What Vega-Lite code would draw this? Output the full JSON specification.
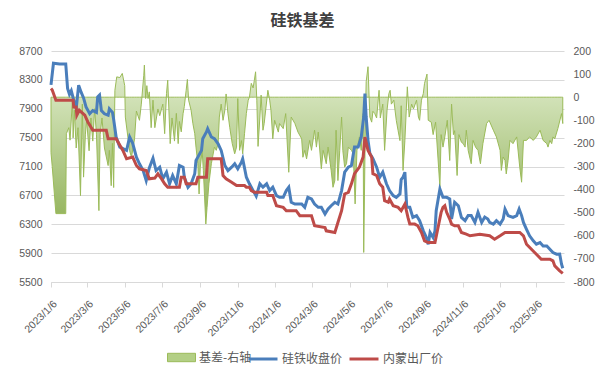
{
 "$schema": "https://vega.github.io/schema/vega-lite/v6.json",
 "width": 513,
 "height": 231,
 "autosize": {"type": "none"},
 "padding": {"left": 51, "top": 51, "right": 42, "bottom": 97},
 "background": "white",
 "config": {"view": {"stroke": null}, "font": "Liberation Sans"},
 "title": {"text": "硅铁基差", "font": "Noto Sans CJK SC", "fontSize": 16, "fontWeight": "bold", "color": "#404040", "anchor": "middle", "offset": 17, "dx": -5},
 "datasets": {
  "basis": [
   {"date":"2023-01-06","value":-240},{"date":"2023-01-08","value":-300},{"date":"2023-01-14","value":-504},{"date":"2023-01-30","value":-504},{"date":"2023-01-31","value":-158},{"date":"2023-02-04","value":-132},{"date":"2023-02-06","value":-186},{"date":"2023-02-10","value":-6},{"date":"2023-02-11","value":-176},{"date":"2023-02-13","value":-56},{"date":"2023-02-16","value":-220},{"date":"2023-02-19","value":-132},{"date":"2023-02-23","value":-426},{"date":"2023-02-26","value":-30},{"date":"2023-02-28","value":-346},{"date":"2023-03-03","value":-160},{"date":"2023-03-05","value":-100},{"date":"2023-03-09","value":-232},{"date":"2023-03-12","value":-90},{"date":"2023-03-15","value":-190},{"date":"2023-03-18","value":-50},{"date":"2023-03-21","value":-160},{"date":"2023-03-25","value":-491},{"date":"2023-03-27","value":-161},{"date":"2023-03-30","value":-90},{"date":"2023-04-03","value":-220},{"date":"2023-04-09","value":-296},{"date":"2023-04-11","value":-230},{"date":"2023-04-14","value":-383},{"date":"2023-04-16","value":-200},{"date":"2023-04-18","value":-391},{"date":"2023-04-20","value":30},{"date":"2023-04-23","value":88},{"date":"2023-04-28","value":85},{"date":"2023-05-02","value":103},{"date":"2023-05-06","value":50},{"date":"2023-05-07","value":-86},{"date":"2023-05-14","value":-232},{"date":"2023-05-17","value":-260},{"date":"2023-05-22","value":-180},{"date":"2023-05-25","value":-60},{"date":"2023-05-30","value":-100},{"date":"2023-06-02","value":-30},{"date":"2023-06-06","value":95},{"date":"2023-06-07","value":139},{"date":"2023-06-09","value":-6},{"date":"2023-06-11","value":50},{"date":"2023-06-13","value":-6},{"date":"2023-06-15","value":23},{"date":"2023-06-18","value":-132},{"date":"2023-06-21","value":-13},{"date":"2023-06-24","value":-132},{"date":"2023-06-29","value":-51},{"date":"2023-07-02","value":-80},{"date":"2023-07-07","value":-30},{"date":"2023-07-10","value":-158},{"date":"2023-07-13","value":16},{"date":"2023-07-15","value":74},{"date":"2023-07-19","value":-201},{"date":"2023-07-22","value":-90},{"date":"2023-07-26","value":-190},{"date":"2023-07-29","value":-70},{"date":"2023-08-01","value":-201},{"date":"2023-08-03","value":-105},{"date":"2023-08-06","value":-150},{"date":"2023-08-09","value":-71},{"date":"2023-08-11","value":-40},{"date":"2023-08-14","value":30},{"date":"2023-08-16","value":77},{"date":"2023-08-18","value":-13},{"date":"2023-08-22","value":-56},{"date":"2023-08-25","value":-115},{"date":"2023-08-28","value":-158},{"date":"2023-08-30","value":-216},{"date":"2023-09-02","value":-288},{"date":"2023-09-04","value":-419},{"date":"2023-09-06","value":-303},{"date":"2023-09-09","value":-230},{"date":"2023-09-11","value":-317},{"date":"2023-09-15","value":-549},{"date":"2023-09-17","value":-477},{"date":"2023-09-20","value":-375},{"date":"2023-09-24","value":-288},{"date":"2023-09-29","value":-216},{"date":"2023-10-02","value":-230},{"date":"2023-10-05","value":-201},{"date":"2023-10-07","value":-86},{"date":"2023-10-10","value":-30},{"date":"2023-10-13","value":-100},{"date":"2023-10-16","value":-56},{"date":"2023-10-18","value":14},{"date":"2023-10-21","value":-71},{"date":"2023-10-24","value":-132},{"date":"2023-10-28","value":-201},{"date":"2023-11-01","value":-245},{"date":"2023-11-04","value":-216},{"date":"2023-11-06","value":-6},{"date":"2023-11-09","value":-230},{"date":"2023-11-12","value":-188},{"date":"2023-11-14","value":-245},{"date":"2023-11-17","value":-158},{"date":"2023-11-20","value":-70},{"date":"2023-11-23","value":-13},{"date":"2023-11-25","value":0},{"date":"2023-11-28","value":60},{"date":"2023-12-01","value":40},{"date":"2023-12-03","value":74},{"date":"2023-12-05","value":110},{"date":"2023-12-07","value":-13},{"date":"2023-12-09","value":-213},{"date":"2023-12-12","value":-86},{"date":"2023-12-14","value":9},{"date":"2023-12-17","value":-143},{"date":"2023-12-19","value":-114},{"date":"2023-12-25","value":30},{"date":"2023-12-28","value":-13},{"date":"2023-12-30","value":-56},{"date":"2024-01-02","value":-180},{"date":"2024-01-05","value":-100},{"date":"2024-01-11","value":-151},{"date":"2024-01-13","value":-114},{"date":"2024-01-19","value":-136},{"date":"2024-01-23","value":-71},{"date":"2024-01-28","value":-325},{"date":"2024-02-01","value":-86},{"date":"2024-02-07","value":-114},{"date":"2024-02-12","value":-151},{"date":"2024-02-18","value":-180},{"date":"2024-02-20","value":-260},{"date":"2024-02-23","value":-230},{"date":"2024-02-26","value":-267},{"date":"2024-03-02","value":-187},{"date":"2024-03-05","value":-230},{"date":"2024-03-10","value":-143},{"date":"2024-03-13","value":-216},{"date":"2024-03-16","value":-151},{"date":"2024-03-21","value":-310},{"date":"2024-03-24","value":-230},{"date":"2024-03-29","value":-288},{"date":"2024-04-01","value":-216},{"date":"2024-04-06","value":-317},{"date":"2024-04-09","value":-390},{"date":"2024-04-12","value":-361},{"date":"2024-04-14","value":-143},{"date":"2024-04-17","value":-361},{"date":"2024-04-20","value":-230},{"date":"2024-04-23","value":-86},{"date":"2024-04-25","value":-230},{"date":"2024-04-28","value":-303},{"date":"2024-05-01","value":-288},{"date":"2024-05-04","value":-216},{"date":"2024-05-09","value":-230},{"date":"2024-05-12","value":-245},{"date":"2024-05-15","value":-462},{"date":"2024-05-18","value":-230},{"date":"2024-05-22","value":-172},{"date":"2024-05-25","value":-230},{"date":"2024-05-28","value":-71},{"date":"2024-05-29","value":-672},{"date":"2024-06-01","value":-56},{"date":"2024-06-02","value":67},{"date":"2024-06-05","value":132},{"date":"2024-06-08","value":-86},{"date":"2024-06-11","value":-108},{"date":"2024-06-13","value":-61},{"date":"2024-06-16","value":-71},{"date":"2024-06-19","value":-90},{"date":"2024-06-23","value":30},{"date":"2024-06-25","value":-90},{"date":"2024-06-29","value":-30},{"date":"2024-07-02","value":-230},{"date":"2024-07-06","value":-56},{"date":"2024-07-09","value":16},{"date":"2024-07-11","value":30},{"date":"2024-07-13","value":-30},{"date":"2024-07-17","value":-13},{"date":"2024-07-21","value":-100},{"date":"2024-07-24","value":-145},{"date":"2024-07-27","value":-188},{"date":"2024-07-29","value":-37},{"date":"2024-08-01","value":-317},{"date":"2024-08-04","value":-188},{"date":"2024-08-08","value":45},{"date":"2024-08-11","value":-86},{"date":"2024-08-15","value":-30},{"date":"2024-08-18","value":-51},{"date":"2024-08-23","value":-13},{"date":"2024-08-26","value":-86},{"date":"2024-08-28","value":-100},{"date":"2024-08-31","value":-13},{"date":"2024-09-03","value":16},{"date":"2024-09-05","value":60},{"date":"2024-09-09","value":100},{"date":"2024-09-11","value":-100},{"date":"2024-09-16","value":-108},{"date":"2024-09-19","value":-162},{"date":"2024-09-23","value":-108},{"date":"2024-09-30","value":-390},{"date":"2024-10-02","value":-162},{"date":"2024-10-05","value":-216},{"date":"2024-10-08","value":-172},{"date":"2024-10-12","value":-100},{"date":"2024-10-16","value":-274},{"date":"2024-10-19","value":-30},{"date":"2024-10-22","value":-162},{"date":"2024-10-24","value":-145},{"date":"2024-10-28","value":-339},{"date":"2024-10-31","value":-162},{"date":"2024-11-04","value":-195},{"date":"2024-11-07","value":-201},{"date":"2024-11-10","value":-216},{"date":"2024-11-12","value":-143},{"date":"2024-11-15","value":-230},{"date":"2024-11-20","value":-288},{"date":"2024-11-23","value":-187},{"date":"2024-11-27","value":-216},{"date":"2024-12-01","value":-230},{"date":"2024-12-05","value":-288},{"date":"2024-12-09","value":-201},{"date":"2024-12-15","value":-114},{"date":"2024-12-19","value":-100},{"date":"2024-12-26","value":-143},{"date":"2024-12-31","value":-172},{"date":"2025-01-06","value":-230},{"date":"2025-01-08","value":-317},{"date":"2025-01-11","value":-259},{"date":"2025-01-14","value":-274},{"date":"2025-01-16","value":-332},{"date":"2025-01-19","value":-274},{"date":"2025-01-22","value":-187},{"date":"2025-01-27","value":-201},{"date":"2025-02-02","value":-172},{"date":"2025-02-07","value":-303},{"date":"2025-02-10","value":-368},{"date":"2025-02-13","value":-187},{"date":"2025-02-18","value":-187},{"date":"2025-02-23","value":-172},{"date":"2025-03-01","value":-187},{"date":"2025-03-06","value":-172},{"date":"2025-03-12","value":-143},{"date":"2025-03-17","value":-187},{"date":"2025-03-23","value":-201},{"date":"2025-03-25","value":-216},{"date":"2025-03-28","value":-187},{"date":"2025-03-31","value":-201},{"date":"2025-04-02","value":-172},{"date":"2025-04-05","value":-180},{"date":"2025-04-10","value":-136},{"date":"2025-04-16","value":-71},{"date":"2025-04-18","value":-114}
  ],
  "prices": [
   {"date":"2023-01-06","series":"硅铁收盘价","value":8230},{"date":"2023-01-10","series":"硅铁收盘价","value":8530},{"date":"2023-01-20","series":"硅铁收盘价","value":8520},{"date":"2023-01-30","series":"硅铁收盘价","value":8520},{"date":"2023-02-02","series":"硅铁收盘价","value":8180},{"date":"2023-02-05","series":"硅铁收盘价","value":8100},{"date":"2023-02-08","series":"硅铁收盘价","value":8150},{"date":"2023-02-12","series":"硅铁收盘价","value":8018},{"date":"2023-02-16","series":"硅铁收盘价","value":7900},{"date":"2023-02-20","series":"硅铁收盘价","value":8227},{"date":"2023-02-24","series":"硅铁收盘价","value":8130},{"date":"2023-02-28","series":"硅铁收盘价","value":8050},{"date":"2023-03-04","series":"硅铁收盘价","value":7925},{"date":"2023-03-10","series":"硅铁收盘价","value":7830},{"date":"2023-03-15","series":"硅铁收盘价","value":7875},{"date":"2023-03-21","series":"硅铁收盘价","value":7850},{"date":"2023-03-23","series":"硅铁收盘价","value":8064},{"date":"2023-03-26","series":"硅铁收盘价","value":8090},{"date":"2023-03-29","series":"硅铁收盘价","value":7875},{"date":"2023-04-03","series":"硅铁收盘价","value":7830},{"date":"2023-04-09","series":"硅铁收盘价","value":7810},{"date":"2023-04-11","series":"硅铁收盘价","value":7900},{"date":"2023-04-16","series":"硅铁收盘价","value":7850},{"date":"2023-04-18","series":"硅铁收盘价","value":7750},{"date":"2023-04-22","series":"硅铁收盘价","value":7508},{"date":"2023-04-28","series":"硅铁收盘价","value":7369},{"date":"2023-05-09","series":"硅铁收盘价","value":7323},{"date":"2023-05-14","series":"硅铁收盘价","value":7508},{"date":"2023-05-19","series":"硅铁收盘价","value":7420},{"date":"2023-05-25","series":"硅铁收盘价","value":7230},{"date":"2023-05-30","series":"硅铁收盘价","value":7138},{"date":"2023-06-05","series":"硅铁收盘价","value":7045},{"date":"2023-06-10","series":"硅铁收盘价","value":6905},{"date":"2023-06-15","series":"硅铁收盘价","value":7080},{"date":"2023-06-21","series":"硅铁收盘价","value":7215},{"date":"2023-06-26","series":"硅铁收盘价","value":7044},{"date":"2023-07-02","series":"硅铁收盘价","value":7090},{"date":"2023-07-07","series":"硅铁收盘价","value":6929},{"date":"2023-07-13","series":"硅铁收盘价","value":7020},{"date":"2023-07-18","series":"硅铁收盘价","value":6860},{"date":"2023-07-23","series":"硅铁收盘价","value":6975},{"date":"2023-07-29","series":"硅铁收盘价","value":6860},{"date":"2023-08-03","series":"硅铁收盘价","value":7114},{"date":"2023-08-09","series":"硅铁收盘价","value":7091},{"date":"2023-08-11","series":"硅铁收盘价","value":6952},{"date":"2023-08-17","series":"硅铁收盘价","value":6812},{"date":"2023-08-22","series":"硅铁收盘价","value":6860},{"date":"2023-08-28","series":"硅铁收盘价","value":7000},{"date":"2023-08-30","series":"硅铁收盘价","value":7183},{"date":"2023-09-02","series":"硅铁收盘价","value":7230},{"date":"2023-09-08","series":"硅铁收盘价","value":7323},{"date":"2023-09-10","series":"硅铁收盘价","value":7485},{"date":"2023-09-16","series":"硅铁收盘价","value":7578},{"date":"2023-09-18","series":"硅铁收盘价","value":7624},{"date":"2023-09-24","series":"硅铁收盘价","value":7508},{"date":"2023-09-29","series":"硅铁收盘价","value":7485},{"date":"2023-10-05","series":"硅铁收盘价","value":7415},{"date":"2023-10-10","series":"硅铁收盘价","value":7323},{"date":"2023-10-16","series":"硅铁收盘价","value":7114},{"date":"2023-10-21","series":"硅铁收盘价","value":7044},{"date":"2023-10-27","series":"硅铁收盘价","value":7091},{"date":"2023-11-01","series":"硅铁收盘价","value":7138},{"date":"2023-11-06","series":"硅铁收盘价","value":7068},{"date":"2023-11-12","series":"硅铁收盘价","value":7160},{"date":"2023-11-14","series":"硅铁收盘价","value":7207},{"date":"2023-11-20","series":"硅铁收盘价","value":6952},{"date":"2023-11-25","series":"硅铁收盘价","value":6860},{"date":"2023-12-01","series":"硅铁收盘价","value":6766},{"date":"2023-12-06","series":"硅铁收盘价","value":6690},{"date":"2023-12-12","series":"硅铁收盘价","value":6860},{"date":"2023-12-17","series":"硅铁收盘价","value":6813},{"date":"2023-12-23","series":"硅铁收盘价","value":6860},{"date":"2023-12-28","series":"硅铁收盘价","value":6766},{"date":"2024-01-02","series":"硅铁收盘价","value":6813},{"date":"2024-01-08","series":"硅铁收盘价","value":6697},{"date":"2024-01-13","series":"硅铁收盘价","value":6673},{"date":"2024-01-19","series":"硅铁收盘价","value":6673},{"date":"2024-01-24","series":"硅铁收盘价","value":6766},{"date":"2024-01-28","series":"硅铁收盘价","value":6813},{"date":"2024-02-01","series":"硅铁收盘价","value":6604},{"date":"2024-02-07","series":"硅铁收盘价","value":6580},{"date":"2024-02-12","series":"硅铁收盘价","value":6580},{"date":"2024-02-18","series":"硅铁收盘价","value":6580},{"date":"2024-02-23","series":"硅铁收盘价","value":6534},{"date":"2024-02-28","series":"硅铁收盘价","value":6673},{"date":"2024-03-05","series":"硅铁收盘价","value":6650},{"date":"2024-03-10","series":"硅铁收盘价","value":6580},{"date":"2024-03-16","series":"硅铁收盘价","value":6534},{"date":"2024-03-21","series":"硅铁收盘价","value":6534},{"date":"2024-03-27","series":"硅铁收盘价","value":6441},{"date":"2024-04-01","series":"硅铁收盘价","value":6511},{"date":"2024-04-06","series":"硅铁收盘价","value":6557},{"date":"2024-04-12","series":"硅铁收盘价","value":6604},{"date":"2024-04-17","series":"硅铁收盘价","value":6580},{"date":"2024-04-23","series":"硅铁收盘价","value":6766},{"date":"2024-04-28","series":"硅铁收盘价","value":7021},{"date":"2024-05-04","series":"硅铁收盘价","value":7091},{"date":"2024-05-09","series":"硅铁收盘价","value":7114},{"date":"2024-05-14","series":"硅铁收盘价","value":7369},{"date":"2024-05-20","series":"硅铁收盘价","value":7369},{"date":"2024-05-25","series":"硅铁收盘价","value":7508},{"date":"2024-05-29","series":"硅铁收盘价","value":7786},{"date":"2024-05-31","series":"硅铁收盘价","value":8111},{"date":"2024-06-02","series":"硅铁收盘价","value":7786},{"date":"2024-06-05","series":"硅铁收盘价","value":7462},{"date":"2024-06-08","series":"硅铁收盘价","value":7280},{"date":"2024-06-13","series":"硅铁收盘价","value":7207},{"date":"2024-06-19","series":"硅铁收盘价","value":7091},{"date":"2024-06-24","series":"硅铁收盘价","value":6950},{"date":"2024-06-29","series":"硅铁收盘价","value":7021},{"date":"2024-07-05","series":"硅铁收盘价","value":6860},{"date":"2024-07-10","series":"硅铁收盘价","value":6766},{"date":"2024-07-16","series":"硅铁收盘价","value":6697},{"date":"2024-07-21","series":"硅铁收盘价","value":6673},{"date":"2024-07-27","series":"硅铁收盘价","value":6720},{"date":"2024-07-29","series":"硅铁收盘价","value":6918},{"date":"2024-08-01","series":"硅铁收盘价","value":6952},{"date":"2024-08-04","series":"硅铁收盘价","value":7021},{"date":"2024-08-07","series":"硅铁收盘价","value":6534},{"date":"2024-08-12","series":"硅铁收盘价","value":6534},{"date":"2024-08-17","series":"硅铁收盘价","value":6395},{"date":"2024-08-23","series":"硅铁收盘价","value":6420},{"date":"2024-08-28","series":"硅铁收盘价","value":6350},{"date":"2024-09-03","series":"硅铁收盘价","value":6209},{"date":"2024-09-08","series":"硅铁收盘价","value":6116},{"date":"2024-09-11","series":"硅铁收盘价","value":6023},{"date":"2024-09-14","series":"硅铁收盘价","value":6186},{"date":"2024-09-19","series":"硅铁收盘价","value":6116},{"date":"2024-09-22","series":"硅铁收盘价","value":6209},{"date":"2024-09-24","series":"硅铁收盘价","value":6488},{"date":"2024-09-30","series":"硅铁收盘价","value":6789},{"date":"2024-10-05","series":"硅铁收盘价","value":6673},{"date":"2024-10-11","series":"硅铁收盘价","value":6673},{"date":"2024-10-16","series":"硅铁收盘价","value":6650},{"date":"2024-10-19","series":"硅铁收盘价","value":6372},{"date":"2024-10-24","series":"硅铁收盘价","value":6604},{"date":"2024-10-30","series":"硅铁收盘价","value":6557},{"date":"2024-11-04","series":"硅铁收盘价","value":6395},{"date":"2024-11-10","series":"硅铁收盘价","value":6350},{"date":"2024-11-15","series":"硅铁收盘价","value":6420},{"date":"2024-11-20","series":"硅铁收盘价","value":6420},{"date":"2024-11-26","series":"硅铁收盘价","value":6325},{"date":"2024-12-01","series":"硅铁收盘价","value":6465},{"date":"2024-12-07","series":"硅铁收盘价","value":6325},{"date":"2024-12-12","series":"硅铁收盘价","value":6400},{"date":"2024-12-17","series":"硅铁收盘价","value":6372},{"date":"2024-12-20","series":"硅铁收盘价","value":6325},{"date":"2024-12-26","series":"硅铁收盘价","value":6302},{"date":"2024-12-31","series":"硅铁收盘价","value":6350},{"date":"2025-01-06","series":"硅铁收盘价","value":6302},{"date":"2025-01-11","series":"硅铁收盘价","value":6372},{"date":"2025-01-14","series":"硅铁收盘价","value":6511},{"date":"2025-01-19","series":"硅铁收盘价","value":6420},{"date":"2025-01-27","series":"硅铁收盘价","value":6395},{"date":"2025-02-02","series":"硅铁收盘价","value":6420},{"date":"2025-02-06","series":"硅铁收盘价","value":6511},{"date":"2025-02-10","series":"硅铁收盘价","value":6420},{"date":"2025-02-13","series":"硅铁收盘价","value":6325},{"date":"2025-02-18","series":"硅铁收盘价","value":6230},{"date":"2025-02-23","series":"硅铁收盘价","value":6140},{"date":"2025-03-01","series":"硅铁收盘价","value":6070},{"date":"2025-03-06","series":"硅铁收盘价","value":6024},{"date":"2025-03-12","series":"硅铁收盘价","value":6047},{"date":"2025-03-17","series":"硅铁收盘价","value":6000},{"date":"2025-03-23","series":"硅铁收盘价","value":6000},{"date":"2025-03-28","series":"硅铁收盘价","value":5954},{"date":"2025-04-02","series":"硅铁收盘价","value":5908},{"date":"2025-04-08","series":"硅铁收盘价","value":5885},{"date":"2025-04-13","series":"硅铁收盘价","value":5886},{"date":"2025-04-16","series":"硅铁收盘价","value":5746},{"date":"2025-04-18","series":"硅铁收盘价","value":5690},
   {"date":"2023-01-06","series":"内蒙出厂价","value":8180},{"date":"2023-01-08","series":"内蒙出厂价","value":8160},{"date":"2023-01-14","series":"内蒙出厂价","value":8018},{"date":"2023-02-11","series":"内蒙出厂价","value":8018},{"date":"2023-02-12","series":"内蒙出厂价","value":7925},{"date":"2023-02-16","series":"内蒙出厂价","value":7925},{"date":"2023-02-17","series":"内蒙出厂价","value":7810},{"date":"2023-02-21","series":"内蒙出厂价","value":7879},{"date":"2023-03-02","series":"内蒙出厂价","value":7810},{"date":"2023-03-07","series":"内蒙出厂价","value":7717},{"date":"2023-03-15","series":"内蒙出厂价","value":7601},{"date":"2023-04-06","series":"内蒙出厂价","value":7601},{"date":"2023-04-09","series":"内蒙出厂价","value":7485},{"date":"2023-04-22","series":"内蒙出厂价","value":7485},{"date":"2023-05-03","series":"内蒙出厂价","value":7323},{"date":"2023-05-09","series":"内蒙出厂价","value":7207},{"date":"2023-05-19","series":"内蒙出厂价","value":7230},{"date":"2023-05-25","series":"内蒙出厂价","value":7114},{"date":"2023-05-30","series":"内蒙出厂价","value":7068},{"date":"2023-06-10","series":"内蒙出厂价","value":7044},{"date":"2023-06-15","series":"内蒙出厂价","value":6929},{"date":"2023-06-24","series":"内蒙出厂价","value":6940},{"date":"2023-06-29","series":"内蒙出厂价","value":6998},{"date":"2023-07-05","series":"内蒙出厂价","value":6929},{"date":"2023-07-10","series":"内蒙出厂价","value":6860},{"date":"2023-07-15","series":"内蒙出厂价","value":6813},{"date":"2023-08-03","series":"内蒙出厂价","value":6813},{"date":"2023-08-06","series":"内蒙出厂价","value":6952},{"date":"2023-08-11","series":"内蒙出厂价","value":6952},{"date":"2023-08-14","series":"内蒙出厂价","value":6860},{"date":"2023-08-30","series":"内蒙出厂价","value":6860},{"date":"2023-09-02","series":"内蒙出厂价","value":6952},{"date":"2023-09-16","series":"内蒙出厂价","value":6952},{"date":"2023-09-18","series":"内蒙出厂价","value":7207},{"date":"2023-10-10","series":"内蒙出厂价","value":7207},{"date":"2023-10-13","series":"内蒙出厂价","value":6975},{"date":"2023-10-18","series":"内蒙出厂价","value":6929},{"date":"2023-10-27","series":"内蒙出厂价","value":6883},{"date":"2023-11-04","series":"内蒙出厂价","value":6836},{"date":"2023-11-17","series":"内蒙出厂价","value":6836},{"date":"2023-11-20","series":"内蒙出厂价","value":6813},{"date":"2023-11-25","series":"内蒙出厂价","value":6813},{"date":"2023-11-28","series":"内蒙出厂价","value":6766},{"date":"2023-12-03","series":"内蒙出厂价","value":6743},{"date":"2023-12-23","series":"内蒙出厂价","value":6743},{"date":"2023-12-25","series":"内蒙出厂价","value":6697},{"date":"2024-01-02","series":"内蒙出厂价","value":6697},{"date":"2024-01-08","series":"内蒙出厂价","value":6557},{"date":"2024-01-19","series":"内蒙出厂价","value":6534},{"date":"2024-01-24","series":"内蒙出厂价","value":6488},{"date":"2024-02-09","series":"内蒙出厂价","value":6488},{"date":"2024-02-15","series":"内蒙出厂价","value":6418},{"date":"2024-03-05","series":"内蒙出厂价","value":6418},{"date":"2024-03-10","series":"内蒙出厂价","value":6279},{"date":"2024-03-27","series":"内蒙出厂价","value":6255},{"date":"2024-03-29","series":"内蒙出厂价","value":6209},{"date":"2024-04-12","series":"内蒙出厂价","value":6186},{"date":"2024-04-17","series":"内蒙出厂价","value":6325},{"date":"2024-04-23","series":"内蒙出厂价","value":6488},{"date":"2024-04-28","series":"内蒙出厂价","value":6720},{"date":"2024-05-04","series":"内蒙出厂价","value":6743},{"date":"2024-05-09","series":"内蒙出厂价","value":6860},{"date":"2024-05-14","series":"内蒙出厂价","value":7000},{"date":"2024-05-22","series":"内蒙出厂价","value":7091},{"date":"2024-05-28","series":"内蒙出厂价","value":7230},{"date":"2024-05-31","series":"内蒙出厂价","value":7508},{"date":"2024-06-05","series":"内蒙出厂价","value":7323},{"date":"2024-06-11","series":"内蒙出厂价","value":7230},{"date":"2024-06-13","series":"内蒙出厂价","value":7000},{"date":"2024-06-19","series":"内蒙出厂价","value":6975},{"date":"2024-06-24","series":"内蒙出厂价","value":6860},{"date":"2024-06-29","series":"内蒙出厂价","value":6813},{"date":"2024-07-02","series":"内蒙出厂价","value":6627},{"date":"2024-07-08","series":"内蒙出厂价","value":6604},{"date":"2024-07-10","series":"内蒙出厂价","value":6650},{"date":"2024-07-16","series":"内蒙出厂价","value":6557},{"date":"2024-07-24","series":"内蒙出厂价","value":6534},{"date":"2024-07-29","series":"内蒙出厂价","value":6488},{"date":"2024-08-04","series":"内蒙出厂价","value":6580},{"date":"2024-08-09","series":"内蒙出厂价","value":6395},{"date":"2024-08-12","series":"内蒙出厂价","value":6302},{"date":"2024-08-20","series":"内蒙出厂价","value":6302},{"date":"2024-08-25","series":"内蒙出厂价","value":6279},{"date":"2024-08-31","series":"内蒙出厂价","value":6186},{"date":"2024-09-05","series":"内蒙出厂价","value":6070},{"date":"2024-09-11","series":"内蒙出厂价","value":6047},{"date":"2024-09-22","series":"内蒙出厂价","value":6047},{"date":"2024-09-27","series":"内蒙出厂价","value":6255},{"date":"2024-10-02","series":"内蒙出厂价","value":6465},{"date":"2024-10-05","series":"内蒙出厂价","value":6534},{"date":"2024-10-08","series":"内蒙出厂价","value":6557},{"date":"2024-10-11","series":"内蒙出厂价","value":6465},{"date":"2024-10-16","series":"内蒙出厂价","value":6372},{"date":"2024-10-19","series":"内蒙出厂价","value":6302},{"date":"2024-10-24","series":"内蒙出厂价","value":6279},{"date":"2024-10-30","series":"内蒙出厂价","value":6279},{"date":"2024-11-04","series":"内蒙出厂价","value":6186},{"date":"2024-11-12","series":"内蒙出厂价","value":6163},{"date":"2024-11-18","series":"内蒙出厂价","value":6140},{"date":"2024-12-04","series":"内蒙出厂价","value":6160},{"date":"2024-12-20","series":"内蒙出厂价","value":6140},{"date":"2024-12-28","series":"内蒙出厂价","value":6093},{"date":"2025-01-06","series":"内蒙出厂价","value":6140},{"date":"2025-01-14","series":"内蒙出厂价","value":6186},{"date":"2025-02-07","series":"内蒙出厂价","value":6186},{"date":"2025-02-13","series":"内蒙出厂价","value":6140},{"date":"2025-02-18","series":"内蒙出厂价","value":6024},{"date":"2025-02-26","series":"内蒙出厂价","value":5954},{"date":"2025-03-06","series":"内蒙出厂价","value":5885},{"date":"2025-03-14","series":"内蒙出厂价","value":5816},{"date":"2025-03-28","series":"内蒙出厂价","value":5816},{"date":"2025-04-02","series":"内蒙出厂价","value":5793},{"date":"2025-04-05","series":"内蒙出厂价","value":5723},{"date":"2025-04-13","series":"内蒙出厂价","value":5654},{"date":"2025-04-18","series":"内蒙出厂价","value":5620}
  ]
 },
 "encoding": {
  "x": {"field": "date", "type": "temporal",
   "scale": {"type": "utc", "domain": [{"year": 2023, "month": 1, "date": 6, "utc": true}, {"year": 2025, "month": 4, "date": 20, "utc": true}]},
   "axis": {"title": null,
    "labelExpr": "utcFormat(datum.value, '%Y/%-m/%-d')",
    "values": [{"year":2023,"month":1,"date":6,"utc":true},{"year":2023,"month":3,"date":6,"utc":true},{"year":2023,"month":5,"date":6,"utc":true},{"year":2023,"month":7,"date":6,"utc":true},{"year":2023,"month":9,"date":6,"utc":true},{"year":2023,"month":11,"date":6,"utc":true},{"year":2024,"month":1,"date":6,"utc":true},{"year":2024,"month":3,"date":6,"utc":true},{"year":2024,"month":5,"date":6,"utc":true},{"year":2024,"month":7,"date":6,"utc":true},{"year":2024,"month":9,"date":6,"utc":true},{"year":2024,"month":11,"date":6,"utc":true},{"year":2025,"month":1,"date":6,"utc":true},{"year":2025,"month":3,"date":6,"utc":true}],
    "labelAngle": -45, "labelAlign": "right", "labelBaseline": "middle", "labelPadding": 15, "labelOffset": 4,
    "labelOverlap": false, "labelFlush": false, "labelBound": false,
    "tickSize": 5, "tickColor": "#d9d9d9", "domainColor": "#d9d9d9", "grid": false,
    "labelColor": "#595959", "labelFontSize": 10.5, "labelFont": "Liberation Sans"}}
 },
 "layer": [
  {
   "data": {"name": "basis"},
   "mark": {"type": "area", "interpolate": "linear", "stroke": "#9bbb59", "strokeWidth": 1,
    "fill": {"gradient": "linear", "x1": 0, "y1": 0, "x2": 0, "y2": 1, "stops": [{"offset": 0, "color": "#e3ecd4"}, {"offset": 0.2, "color": "#cfe0b4"}, {"offset": 1, "color": "#84a845"}]}},
   "encoding": {
    "y": {"field": "value", "type": "quantitative",
     "scale": {"domain": [-800, 200], "nice": false},
     "axis": {"orient": "right", "title": null, "values": [-800,-700,-600,-500,-400,-300,-200,-100,0,100,200],
      "labelExpr": "datum.value + ''",
      "grid": false, "domain": false, "ticks": false, "labelPadding": 9,
      "labelColor": "#595959", "labelFontSize": 10.5, "labelFont": "Liberation Sans"}},
    "y2": {"datum": 0}
   }
  },
  {
   "data": {"name": "basis"},
   "mark": {"type": "point", "opacity": 0, "filled": true},
   "encoding": {
    "fill": {"datum": "基差-右轴", "scale": {"range": ["#b3cf85"]},
     "legend": {"title": null, "orient": "none", "legendX": 116, "legendY": 292, "padding": 0,
      "symbolType": "M-1,-0.3H1V0.3H-1Z", "symbolSize": 784, "symbolStrokeColor": "#9bbb59", "symbolStrokeWidth": 1, "symbolOpacity": 1,
      "labelFont": "Noto Sans CJK SC", "labelFontSize": 12, "labelColor": "#595959", "labelOffset": 3}}
   }
  },
  {
   "data": {"name": "prices"},
   "mark": {"type": "line", "strokeWidth": 3, "interpolate": "linear"},
   "encoding": {
    "y": {"field": "value", "type": "quantitative",
     "scale": {"domain": [5500, 8700], "nice": false, "zero": false},
     "axis": {"orient": "left", "title": null, "values": [5500,5900,6300,6700,7100,7500,7900,8300,8700], "format": "d",
      "grid": true, "gridColor": "#d9d9d9", "domain": false, "ticks": false, "labelPadding": 9,
      "labelColor": "#595959", "labelFontSize": 10.5, "labelFont": "Liberation Sans"}},
    "stroke": {"field": "series", "type": "nominal",
     "scale": {"domain": ["硅铁收盘价", "内蒙出厂价"], "range": ["#4a7ebb", "#be4b48"]},
     "legend": {"title": null, "orient": "none", "direction": "horizontal", "legendX": 196, "legendY": 292, "padding": 0,
      "symbolType": "stroke", "symbolSize": 841, "symbolStrokeWidth": 3, "columnPadding": 0,
      "labelFont": "Noto Sans CJK SC", "labelFontSize": 12, "labelColor": "#595959", "labelOffset": 3}}
   }
  }
 ],
 "resolve": {"scale": {"y": "independent"}}
}
